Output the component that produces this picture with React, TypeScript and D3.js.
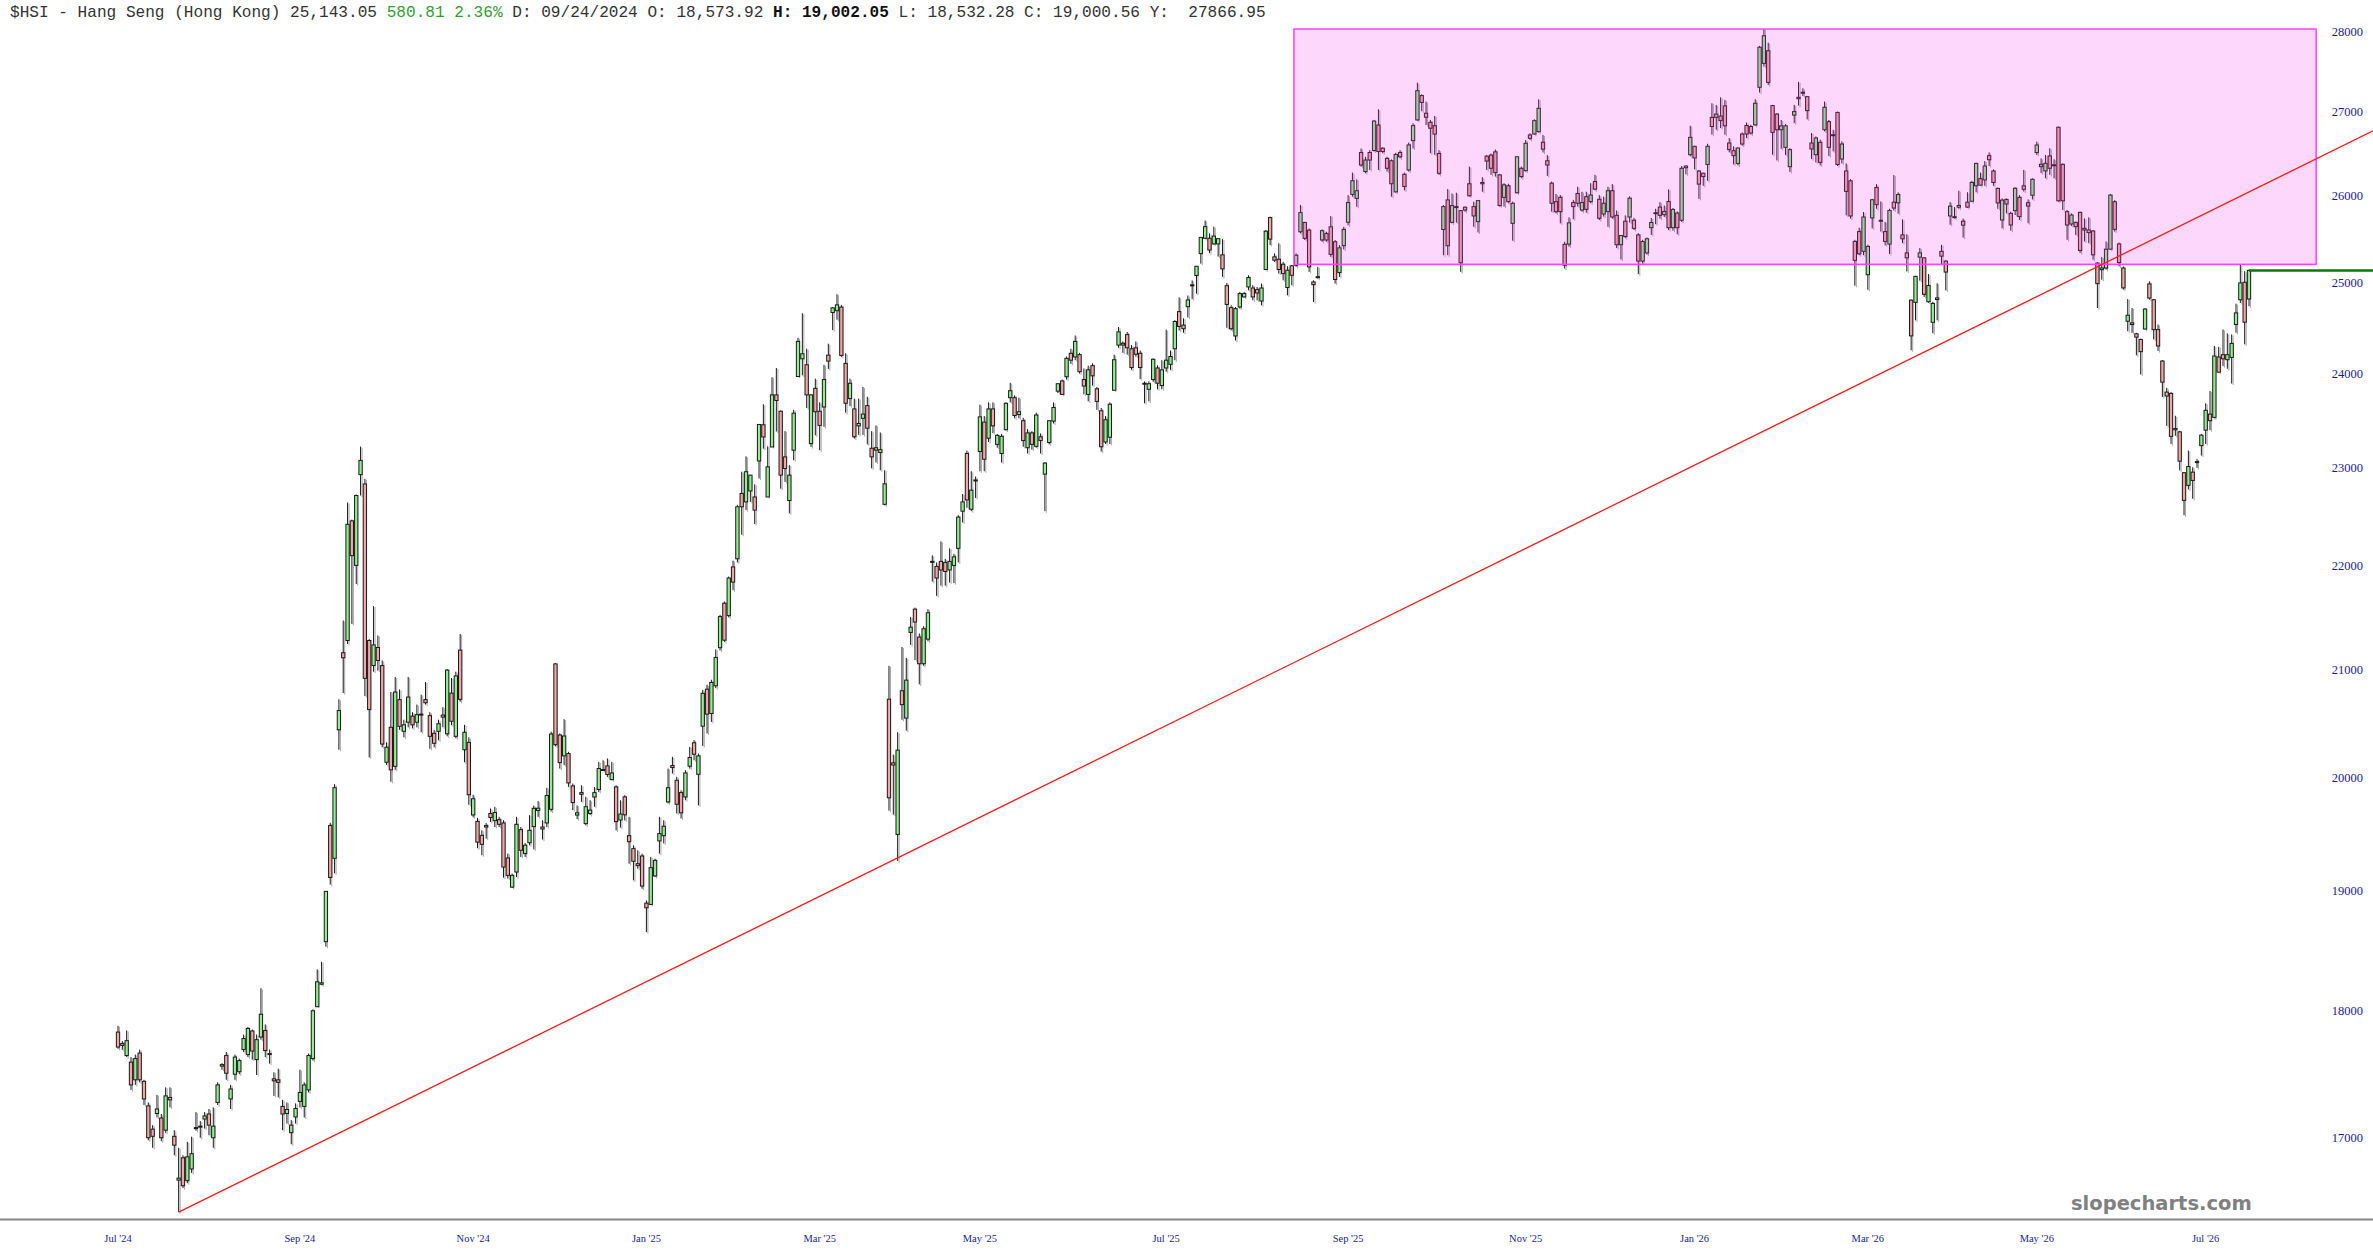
import React from "react";
import * as d3 from "d3";

// open, high, low, close
type Bar = [number, number, number, number];

const julToNov24: Bar[] = [
  [17832, 17882, 17698, 17712], [17740, 17760, 17690, 17725], [17644, 17845, 17632, 17763], [17592, 17632, 17373, 17412],
  [17452, 17652, 17412, 17620], [17664, 17692, 17432, 17452], [17440, 17452, 17255, 17302], [17248, 17275, 16983, 17002],
  [17068, 17099, 16925, 17013], [17189, 17334, 17158, 17224], [17154, 17185, 16975, 17002], [17060, 17393, 17040, 17326],
  [17314, 17393, 17236, 17295], [17013, 17060, 16868, 16945], [16680, 16925, 16441, 16695], [16849, 16868, 16620, 16638],
  [16676, 16971, 16657, 16856], [16764, 17010, 16734, 16880], [17080, 17200, 17056, 17072], [17084, 17130, 17002, 17091],
  [17146, 17200, 17072, 17170], [17185, 17224, 17021, 17099], [17002, 17236, 16925, 17091], [17275, 17432, 17255, 17412],
  [17560, 17584, 17532, 17572], [17644, 17672, 17452, 17504], [17302, 17412, 17224, 17380], [17496, 17652, 17452, 17632],
  [17516, 17620, 17496, 17604], [17692, 17812, 17672, 17780], [17652, 17873, 17632, 17861], [17841, 17853, 17612, 17680],
  [17612, 17812, 17490, 17771], [17792, 18188, 17771, 17976], [17845, 17894, 17632, 17684], [17660, 17692, 17580, 17652],
  [17460, 17512, 17326, 17444], [17452, 17540, 17314, 17432], [17244, 17295, 17060, 17185], [17189, 17275, 17111, 17220],
  [17041, 17138, 16952, 17099], [17162, 17267, 17111, 17228], [17283, 17532, 17236, 17353], [17244, 17432, 17158, 17412],
  [17373, 17660, 17353, 17644], [17620, 18016, 17604, 18004], [18037, 18344, 18037, 18241], [18221, 18406, 18213, 18233],
  [18573.92, 19002.05, 18532.28, 19000.56], [19574, 19597, 19059, 19120], [19286, 19942, 19156, 19910], [20437, 20720, 20254, 20615],
  [21160, 21470, 20778, 21112], [21277, 22644, 21244, 22422], [22457, 22470, 21437, 22107], [22010, 22725, 21826, 22715],
  [22930, 23222, 22715, 23078], [22834, 22886, 20750, 20917], [21277, 21290, 20184, 20624], [21038, 21610, 20980, 21235],
  [21210, 21325, 20990, 21086], [21038, 21086, 20277, 20306], [20140, 20322, 20117, 20277], [20460, 20788, 19964, 20071],
  [20103, 20930, 20071, 20788], [20717, 20812, 20437, 20469], [20423, 20530, 20368, 20483], [20507, 20930, 20460, 20741],
  [20563, 20600, 20450, 20483], [20507, 20671, 20460, 20577], [20577, 20764, 20414, 20582], [20717, 20883, 20671, 20688],
  [20568, 20600, 20263, 20377], [20405, 20437, 20277, 20313], [20423, 20530, 20340, 20493], [20573, 20647, 20460, 20554],
  [20400, 21005, 20377, 20995], [20778, 20920, 20479, 20516], [20377, 20980, 20359, 20940], [21185, 21340, 20697, 20720],
  [20254, 20483, 20140, 20414], [20322, 20368, 19757, 19847], [19667, 19847, 19645, 19811], [19610, 19641, 19374, 19427],
];

const novToFeb25: Bar[] = [
  [19487, 19531, 19313, 19408], [19573, 19595, 19458, 19560], [19680, 19724, 19605, 19644], [19616, 19739, 19560, 19689],
  [19625, 19650, 19560, 19584], [19596, 19620, 19118, 19210], [19289, 19327, 19110, 19138], [19037, 19153, 19030, 19138],
  [19167, 19650, 19124, 19584], [19537, 19560, 19298, 19356], [19327, 19420, 19298, 19400], [19422, 19665, 19400, 19531],
  [19564, 19750, 19364, 19726], [19707, 19790, 19650, 19727], [19560, 19620, 19450, 19543], [19596, 19909, 19560, 19840],
  [19717, 20420, 19697, 20398], [21054, 21060, 20285, 20300], [20389, 20404, 20083, 20137], [20198, 20535, 20113, 20380],
  [20219, 20235, 19918, 19953], [19926, 19947, 19710, 19777], [19666, 19752, 19630, 19686], [19866, 19932, 19783, 19851],
  [19590, 19828, 19575, 19740], [19680, 19798, 19666, 19710], [19827, 19917, 19740, 19866], [19894, 20143, 19872, 20083],
  [20074, 20158, 20062, 20068], [20107, 20174, 20008, 20029], [19983, 20143, 19977, 20043], [19917, 19932, 19531, 19608],
  [19622, 19798, 19555, 19675], [19828, 19843, 19618, 19668], [19484, 19650, 19239, 19431], [19370, 19400, 19095, 19260],
  [19239, 19356, 19196, 19222], [19306, 19327, 19023, 19046], [18900, 18923, 18654, 18860], [18889, 19298, 18883, 19205],
  [19133, 19283, 19124, 19268], [19438, 19650, 19327, 19502], [19484, 19620, 19416, 19567], [19783, 20083, 19769, 19910],
  [20110, 20189, 20038, 20092], [19977, 20008, 19680, 19762], [19866, 19887, 19636, 19686], [19827, 20068, 19798, 20043],
  [20104, 20280, 20083, 20183], [20318, 20343, 20158, 20213], [20031, 20219, 19752, 20198], [20470, 20808, 20289, 20776],
  [20815, 20856, 20404, 20582], [20588, 20904, 20510, 20878], [20847, 21192, 20825, 21115], [21208, 21525, 21182, 21508],
  [21638, 21655, 21264, 21280],
];

const febToMar25: Bar[] = [
  [21517, 21900, 21500, 21885], [21995, 22058, 21765, 21845], [22076, 22620, 22040, 22600], [22736, 22960, 22316, 22600],
  [22650, 23120, 22566, 22960], [22762, 22925, 22650, 22925], [22700, 22830, 22425, 22566], [23072, 23455, 22890, 23455],
  [23452, 23670, 23200, 23323], [22700, 23225, 22700, 23011], [23218, 23960, 23218, 23770], [23770, 24060, 23380, 23710],
  [23595, 23605, 22785, 22925], [23114, 23385, 22855, 22993], [22664, 23030, 22533, 22925], [23184, 23610, 23080, 23575],
  [23968, 24390, 23968, 24350], [24160, 24661, 23980, 24215], [24095, 24270, 23630, 23770], [23253, 23780, 23218, 23770],
  [23840, 23945, 23340, 23590], [23595, 23690, 23184, 23445], [23640, 24095, 23430, 23935], [24200, 24325, 24050, 24135],
  [24670, 24730, 24475, 24722], [24690, 24874, 24590, 24755], [24730, 24755, 24180, 24197],
];

const marToJul25: Bar[] = [
  [24110, 24220, 23580, 23680], [23730, 23945, 23650, 23895], [23620, 23730, 23305, 23325], [23440, 23730, 23345, 23465],
  [23520, 23855, 23345, 23565], [23655, 23750, 23245, 23415], [23205, 23385, 22995, 23115], [23210, 23445, 23055, 23185],
  [23160, 23370, 22975, 23190], [22625, 22975, 22615, 22835], [20721, 21035, 19705, 19820], [20135, 20210, 19670, 20115],
  [19495, 20415, 19263, 20250], [20800, 21215, 20530, 20670], [20545, 21110, 20430, 20900], [21355, 21505, 21235, 21405],
  [21580, 21595, 21090, 21455], [21310, 21345, 20860, 21055], [21055, 21415, 21035, 21390], [21290, 21580, 21270, 21545],
  [22040, 22110, 21850, 22050], [22000, 22040, 21710, 21885], [22050, 22250, 21810, 21965], [22040, 22075, 21810, 21950],
  [21965, 22180, 21840, 22050], [22010, 22125, 21835, 22095], [22180, 22515, 22040, 22495], [22555, 22730, 22440, 22650],
  [23150, 23180, 22590, 22670], [22575, 22965, 22555, 22770], [22870, 22910, 22690, 22875], [23170, 23665, 22965, 23535],
  [23480, 23545, 22965, 23090], [23310, 23690, 23270, 23620], [23620, 23690, 23365, 23440], [23245, 23355, 23210, 23340],
  [23150, 23355, 23055, 23330], [23400, 23690, 23390, 23680], [23740, 23900, 23690, 23815], [23740, 23765, 23520, 23550],
  [23560, 23740, 23520, 23590], [23495, 23525, 23220, 23285], [23210, 23405, 23150, 23366], [23366, 23385, 23190, 23245],
  [23225, 23580, 23210, 23555], [23325, 23360, 23150, 23285], [22935, 23060, 22555, 23050], [23265, 23495, 23245, 23495],
  [23490, 23690, 23465, 23635], [23810, 23895, 23790, 23890], [23920, 23935, 23770, 23775], [23965, 24185, 23935, 24165],
  [24220, 24270, 24105, 24145], [24180, 24415, 24145, 24350], [24205, 24225, 24000, 24020], [23935, 24055, 23775, 23865],
  [23775, 24085, 23700, 24040], [24085, 24110, 23870, 23975], [23835, 23855, 23610, 23700], [23600, 23630, 23170, 23220],
  [23270, 23545, 23250, 23505], [23320, 23690, 23250, 23670], [23820, 24205, 23815, 24150], [24310, 24510, 24280, 24455],
  [24330, 24350, 24225, 24310], [24425, 24455, 24205, 24280], [24270, 24310, 24040, 24065], [24280, 24350, 24185, 24210],
  [24220, 24250, 23940, 24065], [23895, 23915, 23680, 23885], [23830, 23915, 23700, 23890], [23935, 24165, 23910, 24155],
  [24060, 24090, 23830, 23895], [23870, 24145, 23830, 24040], [24060, 24480, 24020, 24145], [24100, 24250, 24040, 24185],
  [24270, 24585, 24145, 24570], [24680, 24840, 24470, 24515], [24530, 24605, 24445, 24490], [24735, 24860, 24615, 24810],
  [24970, 25030, 24820, 24980],
];

const julToNov25: Bar[] = [
  [25085, 25190, 24880, 25190], [25334, 25525, 25220, 25520], [25510, 25715, 25500, 25644], [25510, 25565, 25340, 25375],
  [25445, 25644, 25435, 25535], [25445, 25510, 25300, 25505], [25320, 25500, 25070, 25160], [24970, 25000, 24500, 24760],
  [24724, 24750, 24472, 24490], [24410, 24731, 24360, 24713], [24731, 24900, 24713, 24881], [24844, 24900, 24836, 24881],
  [24956, 25088, 24918, 25062], [24944, 24975, 24806, 24844], [24926, 24956, 24806, 24888], [24798, 24994, 24750, 24944],
  [25153, 25604, 25145, 25592], [25749, 25760, 25432, 25500], [25297, 25336, 25240, 25259], [25270, 25451, 25107, 25153],
  [25213, 25240, 25031, 25107], [24950, 25190, 24862, 25145], [25195, 25200, 24975, 25088], [25202, 25336, 25183, 25316],
  [25585, 25895, 25566, 25807], [25693, 25700, 25490, 25509], [25604, 25623, 25126, 25183], [25012, 25031, 24787, 24982],
  [25065, 25183, 25050, 25072], [25490, 25612, 25470, 25597], [25566, 25585, 25470, 25490], [25642, 25768, 25297, 25325],
  [25470, 25490, 24994, 25040], [25118, 25432, 25069, 25400], [25425, 25642, 25381, 25612], [25695, 26012, 25660, 25924],
  [26020, 26277, 25993, 26181], [25973, 26197, 25875, 26063], [26516, 26564, 26347, 26367], [26289, 26465, 26269, 26426],
  [26516, 26544, 26308, 26426], [26540, 26909, 26528, 26895], [26847, 27038, 26308, 26528], [26568, 26580, 26508, 26528],
  [26446, 26465, 26289, 26328], [26418, 26434, 25993, 26145], [26050, 26512, 26040, 26493], [26516, 26544, 26446, 26465],
  [26257, 26277, 26067, 26113], [26308, 26635, 26289, 26607], [26659, 26868, 26564, 26839], [26909, 27364, 26897, 27266],
  [27206, 27222, 27014, 27122], [26990, 27132, 26848, 26941], [26880, 26909, 26508, 26808], [26839, 26957, 26488, 26737],
  [26504, 26544, 26250, 26269], [25611, 25895, 25316, 25877], [25955, 26082, 25316, 25424], [25694, 26031, 25682, 25889],
  [25877, 26039, 25690, 25870], [25830, 25837, 25126, 25229], [25870, 25877, 25817, 25837], [26145, 26348, 25993, 26004],
  [25877, 25935, 25642, 25768], [25702, 25955, 25576, 25947], [26160, 26222, 26051, 26145], [26473, 26485, 26308, 26414],
  [26485, 26504, 26250, 26328], [26524, 26552, 26230, 26277], [26250, 26261, 25877, 25889], [25985, 26152, 25877, 26132],
  [26121, 26145, 25916, 25935], [25682, 25935, 25482, 25916], [26039, 26473, 26031, 26465], [26328, 26348, 26210, 26230],
  [26300, 26667, 26289, 26627], [26727, 26747, 26667, 26687], [26739, 26917, 26727, 26900], [26767, 27160, 26755, 27050],
  [26639, 26727, 26516, 26556], [26418, 26485, 26238, 26367], [26152, 26171, 25818, 25916], [25935, 26024, 25798, 25818],
  [25986, 26012, 25682, 25818], [25440, 25470, 25164, 25202], [25443, 25752, 25413, 25688], [25924, 25955, 25730, 25877],
  [26031, 26110, 25877, 25916], [25837, 26051, 25818, 25924], [25993, 26051, 25807, 25845], [25935, 26152, 25916, 26012],
  [26171, 26250, 26067, 26082], [25963, 26012, 25720, 25741], [25791, 25993, 25760, 25916], [25818, 26110, 25642, 26063],
];

const novToMar26: Bar[] = [
  [26063, 26141, 25737, 25756], [25775, 25832, 25398, 25436], [25436, 25549, 25267, 25541], [25707, 25775, 25511, 25530],
  [25756, 25998, 25692, 25975], [25718, 25745, 25605, 25624], [25549, 25568, 25101, 25249], [25249, 25492, 25219, 25473],
  [25342, 25519, 25323, 25504], [25632, 25745, 25549, 25692], [25800, 25852, 25673, 25806], [25871, 25929, 25737, 25775],
  [25783, 25890, 25756, 25821], [25937, 26079, 25605, 25632], [25632, 25860, 25597, 25844], [25802, 25821, 25556, 25632],
  [25718, 26355, 25699, 26328], [26335, 26362, 26257, 26355], [26490, 26838, 26470, 26698], [26590, 26598, 26316, 26451],
  [26296, 26308, 25967, 26141], [26270, 26277, 26121, 26230], [26374, 26621, 26180, 26590], [26940, 27112, 26730, 26829],
  [26980, 27091, 26790, 26940], [26956, 27185, 26810, 26900], [27080, 27153, 26730, 26837], [26630, 26690, 26518, 26550],
  [26538, 26590, 26374, 26478], [26386, 26578, 26362, 26570], [26738, 26758, 26598, 26618], [26841, 26877, 26690, 26738],
  [26829, 26849, 26730, 26750], [26849, 27161, 26837, 27112], [27308, 27823, 27243, 27806], [27604, 28035, 27564, 27950],
  [27762, 27863, 27336, 27368], [27084, 27092, 26490, 26758], [26980, 26992, 26422, 26790], [26790, 26908, 26560, 26837],
  [26578, 26857, 26486, 26837], [26347, 26570, 26285, 26550], [26967, 27092, 26870, 27010], [27185, 27375, 27084, 27168],
  [27247, 27295, 27200, 27235], [27193, 27201, 26916, 27022], [26630, 26750, 26438, 26558], [26490, 26710, 26398, 26690],
  [26638, 26670, 26362, 26398], [26790, 27133, 26770, 27063], [26888, 26908, 26474, 26578], [26730, 26790, 26530, 26722],
  [27000, 27010, 26355, 26374], [26438, 26650, 26386, 26618], [26296, 26386, 25775, 26055], [26180, 26199, 25737, 25768],
  [25474, 25492, 24970, 25257], [25587, 25632, 25316, 25331], [25360, 25813, 25316, 25756], [25094, 25436, 24924, 25416],
  [25745, 25967, 25624, 25957], [26101, 26141, 25852, 25900], [25718, 25937, 25587, 25712], [25587, 25699, 25428, 25474],
  [25443, 25852, 25331, 25832], [25929, 26247, 25832, 25860], [25921, 26045, 25794, 26018], [25549, 25729, 25455, 25504],
  [25342, 25556, 25130, 25286], [24808, 24815, 24253, 24411], [24783, 25082, 24583, 25075], [25294, 25398, 25026, 25342],
  [25286, 25294, 24844, 24873], [24790, 25101, 24779, 24972], [24561, 24790, 24440, 24771], [24833, 24997, 24583, 24815],
  [25360, 25435, 25212, 25305], [25249, 25260, 24917, 25124], [25768, 25929, 25667, 25882], [25750, 25871, 25737, 25760],
  [25870, 26063, 25852, 25890], [25707, 25737, 25518, 25661], [25929, 26045, 25860, 25871], [25940, 26180, 25929, 26160],
  [26121, 26394, 26045, 26386], [26206, 26277, 26121, 26129], [26190, 26414, 26121, 26355], [26478, 26518, 26355, 26430],
  [26296, 26316, 26121, 26160], [26090, 26101, 25852, 25920],
];

const marToJul26: Bar[] = [
  [25721, 25973, 25625, 25953], [25961, 25973, 25798, 25907], [25798, 25818, 25597, 25663], [25830, 26104, 25779, 26092],
  [25985, 26012, 25721, 25760], [26120, 26309, 26053, 26080], [25922, 25961, 25683, 25883], [26010, 26210, 25961, 26198],
  [26515, 26646, 26487, 26606], [26376, 26447, 26270, 26348], [26297, 26487, 26210, 26387], [26475, 26566, 26250, 26328],
  [26370, 26435, 26210, 26365], [26820, 26828, 25934, 25945], [26375, 26387, 25838, 25945], [25818, 25838, 25492, 25663],
  [25675, 25798, 25652, 25779], [25694, 25702, 25548, 25644], [25810, 25818, 25340, 25370], [25625, 25740, 25473, 25606],
  [25606, 25752, 25454, 25575], [25594, 25606, 25264, 25320], [25226, 25237, 24720, 24993], [25151, 25294, 25038, 25170],
  [25170, 25473, 25151, 25385], [25385, 26024, 25377, 26012], [25934, 25953, 25586, 25613], [25445, 25461, 25188, 25233],
  [25170, 25188, 24926, 24945], [24573, 24820, 24463, 24639], [24555, 24720, 24445, 24536], [24434, 24445, 24198, 24397],
  [24372, 24380, 23990, 24238], [24487, 24720, 24480, 24708], [24990, 25020, 24812, 24831], [24812, 24820, 24372, 24480],
  [24480, 24536, 24245, 24300], [24136, 24147, 23748, 23907], [23800, 23846, 23441, 23758], [23786, 23800, 23250, 23329],
  [23412, 23547, 23335, 23398], [23377, 23387, 22973, 23070], [22950, 22956, 22514, 22665], [22819, 23180, 22778, 23014],
  [22956, 23007, 22682, 22870], [23065, 23093, 23000, 23055], [23232, 23353, 23128, 23342], [23395, 23680, 23249, 23605],
  [23565, 23811, 23395, 23495], [23530, 24300, 23519, 24190], [24180, 24290, 24008, 24015], [24205, 24482, 24080, 24160],
  [24150, 24438, 24052, 24205], [24175, 24427, 23892, 24328], [24537, 24768, 24445, 24665], [24812, 25206, 24776, 25001],
  [25009, 25133, 24318, 24562.24], [24820, 25151, 24740, 25143.05],
];

const bars: Bar[] = [
  ...julToNov24, ...novToFeb25, ...febToMar25, ...marToJul25,
  ...julToNov25, ...novToMar26, ...marToJul26,
];

const priceTicks = [17000, 18000, 19000, 20000, 21000, 22000, 23000, 24000, 25000, 26000, 27000, 28000];
const tickLabels = ["Jul '24", "Sep '24", "Nov '24", "Jan '25", "Mar '25", "May '25", "Jul '25", "Sep '25", "Nov '25", "Jan '26", "Mar '26", "May '26", "Jul '26"];
const tickBars = [0, 42, 82, 122, 162, 199, 242, 284, 325, 364, 404, 443, 482];

// trendline through two lows: [bar index, price]
const trendAnchors: [number, number][] = [[14, 16441], [180, 19290]];
// shaded range box: bar span and price span
const zoneBars = [271.5, 507.5];
const zonePrices = [25212, 28035];

const hoverBar = 48;
const hoverDate = "09/24/2024";
const cursorPrice = 27866.95;

const W = 2373;
const H = 1260;

export default function App() {
  const x = d3.scaleLinear().domain([0, bars.length - 1]).range([118, 2249]);
  const y = d3.scaleLog().domain([17000, 28000]).range([1138, 31.8]);
  const bw = 3.3;
  const fmt = d3.format(",.2f");

  const last = bars[bars.length - 1];
  const prev = bars[bars.length - 2];
  const chg = last[3] - prev[3];
  const pct = (chg / prev[3]) * 100;
  const hb = bars[hoverBar];

  const [a, b] = trendAnchors;
  const slope = (Math.log(b[1]) - Math.log(a[1])) / (b[0] - a[0]);
  const endBar = x.invert(W);
  const trendPts: [number, number][] = [a, [endBar, Math.exp(Math.log(a[1]) + slope * (endBar - a[0]))]];
  const trendPath = d3.line<[number, number]>().x((d) => x(d[0])).y((d) => y(d[1]))(trendPts) || "";

  return (
    <div style={{ position: "fixed", left: 0, top: 0, width: W, height: H, background: "#fff" }}>
      <svg width={W} height={H} style={{ display: "block" }}>
        <text x={10} y={17} fontFamily="Liberation Mono, monospace" fontSize={16.1} fill="#333" style={{ whiteSpace: "pre" }}>
          <tspan>{`$HSI - Hang Seng (Hong Kong) ${fmt(last[3])} `}</tspan>
          <tspan fill="#2f9e2f">{`${fmt(chg)} ${pct.toFixed(2)}%`}</tspan>
          <tspan>{` D: ${hoverDate} O: ${fmt(hb[0])} `}</tspan>
          <tspan fontWeight="bold" fill="#111">{`H: ${fmt(hb[1])}`}</tspan>
          <tspan>{` L: ${fmt(hb[2])} C: ${fmt(hb[3])} Y:  ${cursorPrice.toFixed(2)}`}</tspan>
        </text>

        {/* shadows */}
        <g stroke="#8a8a8a" strokeWidth={1} opacity={0.75}>
          {bars.map((d, i) => (
            <line key={i} x1={x(i) + 1.5} x2={x(i) + 1.5} y1={y(d[1]) + 1} y2={y(d[2]) + 1.5} />
          ))}
        </g>

        {/* candles */}
        <g>
          {bars.map((d, i) => {
            const up = d[3] >= d[0];
            const top = y(Math.max(d[0], d[3]));
            const bot = y(Math.min(d[0], d[3]));
            const cx = x(i);
            return (
              <g key={i}>
                <line x1={cx} x2={cx} y1={y(d[1])} y2={y(d[2])} stroke="#1a1a1a" strokeWidth={1} />
                <rect
                  x={cx - bw / 2}
                  y={top}
                  width={bw}
                  height={Math.max(1, bot - top)}
                  fill={up ? "#90ee90" : "#f4a6a6"}
                  stroke="#1a1a1a"
                  strokeWidth={1}
                />
              </g>
            );
          })}
        </g>

        {/* range box */}
        <rect
          x={x(zoneBars[0])}
          y={y(zonePrices[1])}
          width={x(zoneBars[1]) - x(zoneBars[0])}
          height={y(zonePrices[0]) - y(zonePrices[1])}
          fill="rgb(245,60,240)"
          fillOpacity={0.2}
          stroke="#ff40ff"
          strokeWidth={1.5}
        />

        <path d={trendPath} fill="none" stroke="#ff1a1a" strokeWidth={1.3} />

        <line x1={x(bars.length - 1)} x2={W} y1={y(last[3])} y2={y(last[3])} stroke="#0a7a0a" strokeWidth={2.5} />

        {/* price axis */}
        {priceTicks.map((p) => (
          <text key={p} x={2363} y={y(p) + 4} textAnchor="end" fontFamily="Liberation Serif, serif" fontSize={12.5} fill="#1c1c8c">
            {p}
          </text>
        ))}

        {/* time axis */}
        <line x1={0} x2={W} y1={1219.5} y2={1219.5} stroke="#858585" strokeWidth={1.8} />
        {tickBars.map((t, i) => (
          <text key={t} x={x(t)} y={1242} textAnchor="middle" fontFamily="Liberation Serif, serif" fontSize={10.5} fill="#1c1c8c">
            {tickLabels[i]}
          </text>
        ))}

        <text x={2071} y={1210} fontFamily="DejaVu Sans, sans-serif" fontWeight="bold" fontSize={19.5} fill="#808080">
          slopecharts.com
        </text>
      </svg>
    </div>
  );
}
